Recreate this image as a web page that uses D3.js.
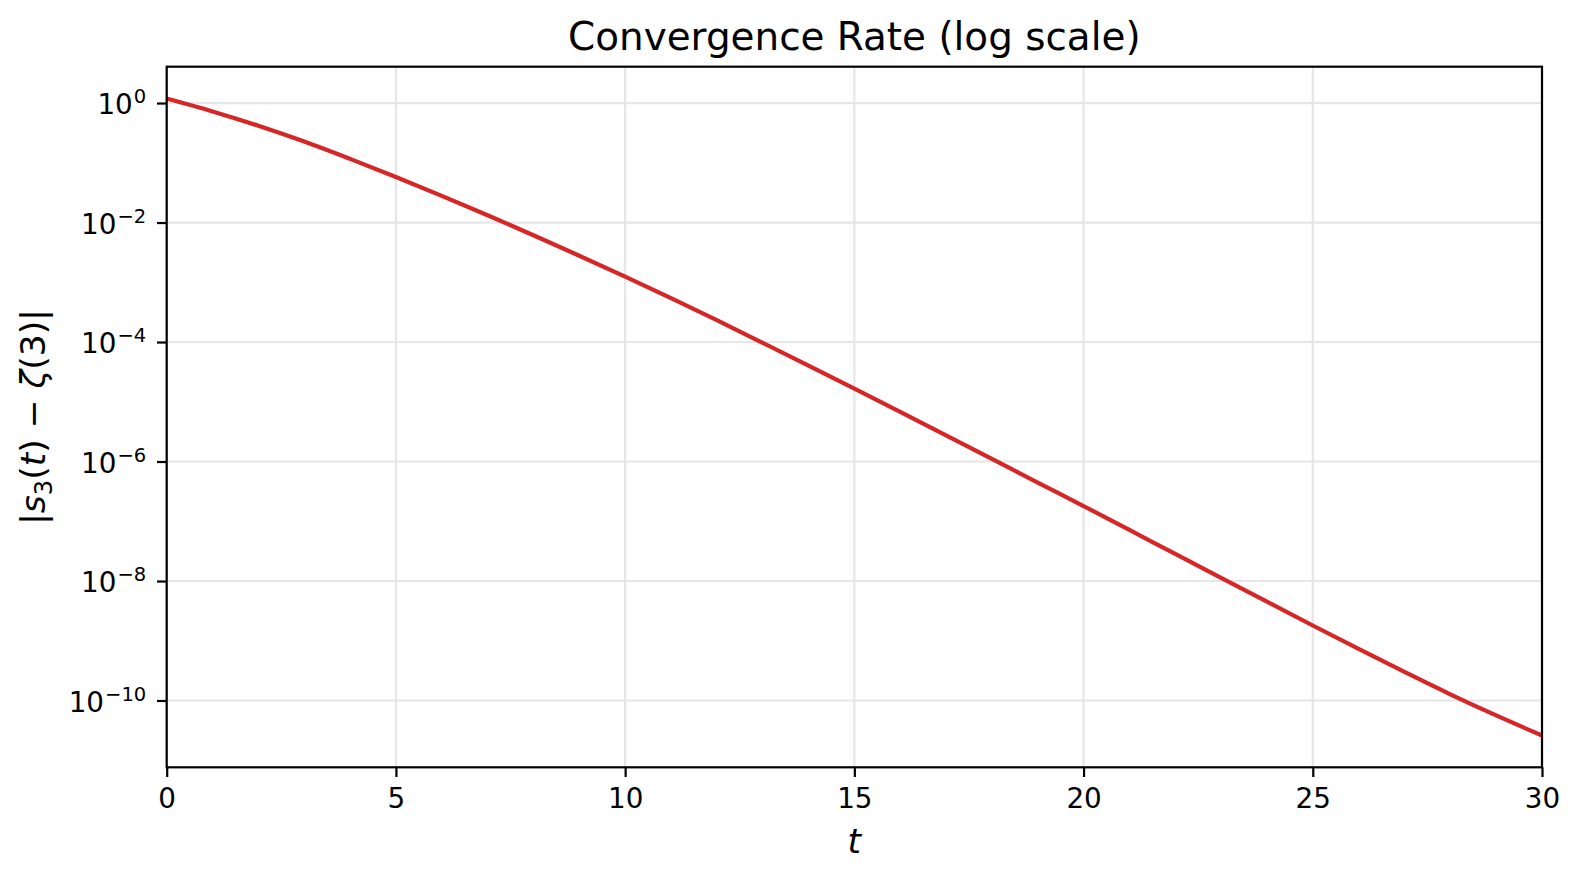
<!DOCTYPE html>
<html>
<head>
<meta charset="utf-8">
<script src="https://cdn.jsdelivr.net/npm/d3@7"></script>
<style>
  html, body { margin: 0; padding: 0; background: #fff; }
  svg { display: block; font-family: "DejaVu Sans", sans-serif; }
</style>
</head>
<body>
<svg id="chart" width="1580" height="880"></svg>
<script>
// ---- data ----
const tValues = [0,1,2,3,4,5,6,7,8,9,10,11,12,13,14,15,16,17,18,19,20,21,22,23,24,25,26,27,28,29,30];
const errValues = [1.189, 0.7244, 0.4169, 0.2265, 0.1161, 0.05781, 0.02799, 0.01324, 6.12e-3, 2.78e-3,
  1.245e-3, 5.43e-4, 2.32e-4, 9.70e-5, 4.03e-5, 1.656e-5, 6.75e-6, 2.735e-6, 1.104e-6, 4.44e-7,
  1.80e-7, 7.16e-8, 2.84e-8, 1.13e-8, 4.50e-9, 1.80e-9, 7.28e-10, 3.00e-10, 1.27e-10, 5.62e-11, 2.60e-11];
const xTicks = [0, 5, 10, 15, 20, 25, 30];
const yTickExponents = [0, -2, -4, -6, -8, -10];
const titleText = "Convergence Rate (log scale)";

// ---- layout ----
const m = { left: 166.7, top: 66.7, right: 1542, bottom: 767.3 };
const svg = d3.select("#chart");

const x = d3.scaleLinear().domain([0, 30]).range([m.left, m.right]);
const logs = errValues.map(v => Math.log10(v));
const lo = d3.min(logs), hi = d3.max(logs), pad = (hi - lo) * 0.05;
const y = d3.scaleLog().domain([Math.pow(10, hi + pad), Math.pow(10, lo - pad)]).range([m.top, m.bottom]);

const gridColor = "#e6e6e6";
const lw = 2.2;

// grid
const grid = svg.append("g");
grid.selectAll(".gx").data(xTicks).enter().append("line")
  .attr("x1", d => x(d)).attr("x2", d => x(d))
  .attr("y1", m.top).attr("y2", m.bottom)
  .attr("stroke", gridColor).attr("stroke-width", lw);
grid.selectAll(".gy").data(yTickExponents).enter().append("line")
  .attr("x1", m.left).attr("x2", m.right)
  .attr("y1", d => y(Math.pow(10, d))).attr("y2", d => y(Math.pow(10, d)))
  .attr("stroke", gridColor).attr("stroke-width", lw);

// line
const data = tValues.map((t, i) => ({ t, v: errValues[i] }));
svg.append("path")
  .datum(data)
  .attr("fill", "none")
  .attr("stroke", "#d62728")
  .attr("stroke-width", 4.2)
  .attr("stroke-linejoin", "round")
  .attr("d", d3.line().x(d => x(d.t)).y(d => y(d.v)).curve(d3.curveMonotoneX));

// x axis
const xAxis = svg.append("g")
  .attr("transform", `translate(0,${m.bottom})`)
  .call(d3.axisBottom(x).tickValues(xTicks).tickSize(9.7).tickSizeOuter(0).tickFormat(d3.format("d")));
xAxis.select(".domain").remove();
xAxis.selectAll(".tick line").attr("stroke", "#000").attr("stroke-width", lw);
xAxis.selectAll(".tick text")
  .attr("y", 41).attr("dy", 0)
  .attr("font-size", 27.8).attr("fill", "#000")
  .attr("font-family", "DejaVu Sans");

// y axis
const yAxis = svg.append("g")
  .attr("transform", `translate(${m.left},0)`)
  .call(d3.axisLeft(y).tickValues(yTickExponents.map(e => Math.pow(10, e))).tickSize(9.7).tickSizeOuter(0).tickFormat(() => ""));
yAxis.select(".domain").remove();
yAxis.selectAll(".tick line").attr("stroke", "#000").attr("stroke-width", lw);
yAxis.selectAll(".tick text").each(function(d) {
  const e = Math.round(Math.log10(d));
  const t = d3.select(this)
    .attr("x", -20.5).attr("y", 10.5).attr("dy", 0)
    .attr("text-anchor", "end")
    .attr("font-family", "DejaVu Sans")
    .attr("fill", "#000");
  t.text(null);
  t.append("tspan").attr("font-size", 27.8).text("10");
  t.append("tspan").attr("font-size", 19.5).attr("dy", -11).attr("dx", 1)
    .text(e === 0 ? "0" : "\u2212" + Math.abs(e));
});

// spines
svg.append("rect")
  .attr("x", m.left).attr("y", m.top)
  .attr("width", m.right - m.left).attr("height", m.bottom - m.top)
  .attr("fill", "none").attr("stroke", "#000").attr("stroke-width", lw);

// title
svg.append("text")
  .attr("x", (m.left + m.right) / 2).attr("y", 50)
  .attr("text-anchor", "middle")
  .attr("font-size", 38.9).attr("fill", "#000")
  .text(titleText);

// x label
svg.append("text")
  .attr("x", (m.left + m.right) / 2).attr("y", 853)
  .attr("text-anchor", "middle")
  .attr("font-size", 34.5).attr("font-style", "italic").attr("fill", "#000")
  .text("t");

// y label  |s_3(t) − ζ(3)|
const yl = svg.append("text")
  .attr("transform", `translate(45,${(m.top + m.bottom) / 2}) rotate(-90)`)
  .attr("text-anchor", "middle")
  .attr("font-size", 34.5).attr("fill", "#000");
yl.append("tspan").text("|");
yl.append("tspan").attr("font-style", "italic").text("s");
yl.append("tspan").attr("font-size", 24.2).attr("dy", 7).text("3");
yl.append("tspan").attr("dy", -7).text("(");
yl.append("tspan").attr("font-style", "italic").text("t");
yl.append("tspan").text(")\u00a0\u2212\u00a0");
yl.append("tspan").attr("font-style", "italic").text("\u03b6");
yl.append("tspan").text("(3)|");
</script>
</body>
</html>
